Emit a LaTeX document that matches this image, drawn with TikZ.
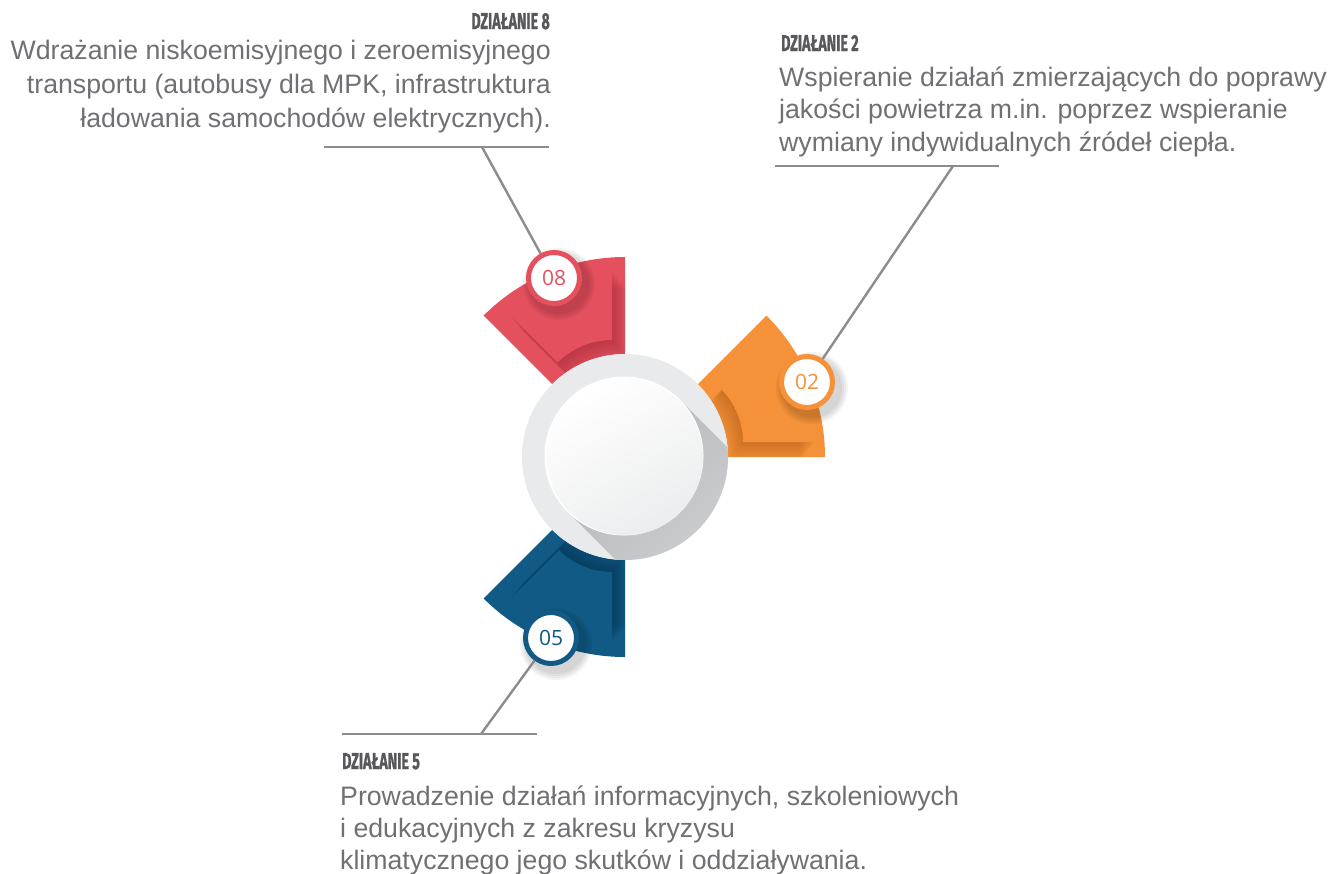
\documentclass[tikz,border=0pt]{standalone}
\usepackage{graphicx}
\usepackage{fontspec}
\setmainfont{Liberation Sans}
\newfontfamily\headfont[BoldFeatures={FakeBold=1.3}]{Fira Sans}
\newfontfamily\numfont{Open Sans}
\newcommand\hdtext[1]{\scalebox{0.62}[1]{\headfont\bfseries\fontsize{23}{23}\selectfont #1}}
\usetikzlibrary{calc}
\definecolor{redP}{RGB}{229,80,94}
\definecolor{redD}{RGB}{140,30,45}
\definecolor{oraP}{RGB}{245,145,56}
\definecolor{oraD}{RGB}{160,80,15}
\definecolor{bluP}{RGB}{16,90,133}
\definecolor{bluD}{RGB}{4,35,58}
\definecolor{txt}{RGB}{112,112,116}
\definecolor{headc}{RGB}{88,88,92}
\definecolor{linc}{RGB}{140,140,140}
\definecolor{ringc}{RGB}{233,234,235}
\definecolor{shadc}{RGB}{185,186,189}
\definecolor{shadl}{RGB}{228,229,230}
\newcommand\annsec[6]{(#1,#2) ++(#3:#6) arc[start angle=#3,end angle=#4,radius=#6] -- ($(#1,#2)+(#4:#5)$) arc[start angle=#4,end angle=#3,radius=#5] -- cycle}
\tikzset{
  body/.style={text=txt,inner sep=0pt},
  headst/.style={text=headc,inner sep=0pt},
  conn/.style={draw=linc,line width=2.4pt},
  badge/.style={circle,minimum size=51pt,fill=white,draw=#1,line width=5pt,text=#1,
    font=\numfont\fontsize{21}{21}\selectfont,inner sep=0pt},
  bshadow/.style={fill=black,opacity=0.045}
}
\begin{document}
\begin{tikzpicture}[x=1pt,y=-1pt]
\useasboundingbox (0,0) rectangle (1330,873);
% guide lines (horizontal)
\coordinate (h8a) at (324,147);
\coordinate (h8b) at (549,147);
\coordinate (k8) at (482,147);
\coordinate (h2a) at (775,166);
\coordinate (h2b) at (999,166);
\coordinate (k2) at (953,166);
\coordinate (h5a) at (342,734);
\coordinate (h5b) at (537,734);
\coordinate (k5) at (481,734);
\draw[conn] (h8a) -- (h8b);
\draw[conn] (h2a) -- (h2b);
\draw[conn] (h5a) -- (h5b);
% petals
\fill[redP] \annsec{625}{457}{-90}{-135}{103}{200};
\begin{scope}
  \clip \annsec{625}{457}{-90}{-135}{103}{200};
  \foreach \s in {2,4,...,18}{
    \fill[redD,opacity=0.055] \annsec{612+0.8*\s}{417+\s}{-90}{-135}{77}{147};
  }
  \fill[redP] \annsec{612}{417}{-90}{-135}{77}{147};
\end{scope}
\fill[oraP] \annsec{625}{457}{0}{-45}{103}{200};
\begin{scope}
  \clip \annsec{625}{457}{0}{-45}{103}{200};
  \foreach \s in {2,4,...,18}{
    \fill[oraD,opacity=0.055] \annsec{668-0.8*\s}{442+\s}{0}{-45}{75}{147};
  }
  \fill[oraP] \annsec{668}{442}{0}{-45}{75}{147};
\end{scope}
\fill[bluP] \annsec{625}{457}{90}{135}{103}{200};
\begin{scope}
  \clip \annsec{625}{457}{90}{135}{103}{200};
  \foreach \s in {2,4,...,18}{
    \fill[bluD,opacity=0.055] \annsec{612+0.8*\s}{497-\s}{90}{135}{75}{147};
  }
  \fill[bluP] \annsec{612}{497}{90}{135}{75}{147};
\end{scope}
% centre disc
\fill[ringc] (625,457) circle[radius=103];
\begin{scope}
  \clip (625,457) circle[radius=103];
  \shade[top color=shadc,bottom color=shadl,shading angle=45]
    (681,401) -- (881,601) -- (769,713) -- (569,513) -- cycle;
\end{scope}
\fill[white] (624,456) circle[radius=79.5];
\shade[top color=white,bottom color={rgb,255:red,236;green,237;blue,238},shading angle=30]
  (625,457) circle[radius=78];
% badges
\foreach \x/\y in {554/278,807/382,551/638}{
  \foreach \r in {36,34,32,30}{\fill[bshadow] (\x+5,\y+6) circle[radius=\r];}
}
\node[badge=redP] (b8) at (554,278) {08};
\node[badge=oraP] (b2) at (807,382) {02};
\node[badge=bluP] (b5) at (551,638) {05};
\draw[conn] (b8) -- (k8);
\draw[conn] (b2) -- (k2);
\draw[conn] (b5) -- (k5);
% texts
\node[headst,anchor=base east] (t8h) at (550,29) {\hdtext{DZIAŁANIE 8}};
\node[body,anchor=base east,align=right,font=\fontsize{26.7}{34}\selectfont] (t8) at (551,127)
  {Wdrażanie niskoemisyjnego i zeroemisyjnego\\transportu (autobusy dla MPK, infrastruktura\\ładowania samochodów elektrycznych).};
\node[headst,anchor=base west] (t2h) at (781,51) {\hdtext{DZIAŁANIE 2}};
\node[body,anchor=base west,align=left,font=\fontsize{26.7}{32.5}\selectfont] (t2) at (779,151)
  {Wspieranie działań zmierzających do poprawy\\jakości powietrza m.in. poprzez wspieranie\\wymiany indywidualnych źródeł ciepła.};
\node[headst,anchor=base west] (t5h) at (342,769) {\hdtext{DZIAŁANIE 5}};
\node[body,anchor=base west,align=left,font=\fontsize{26.7}{32}\selectfont] (t5) at (340,869)
  {Prowadzenie działań informacyjnych, szkoleniowych\\i edukacyjnych z zakresu kryzysu\\klimatycznego jego skutków i oddziaływania.};
\end{tikzpicture}
\end{document}
